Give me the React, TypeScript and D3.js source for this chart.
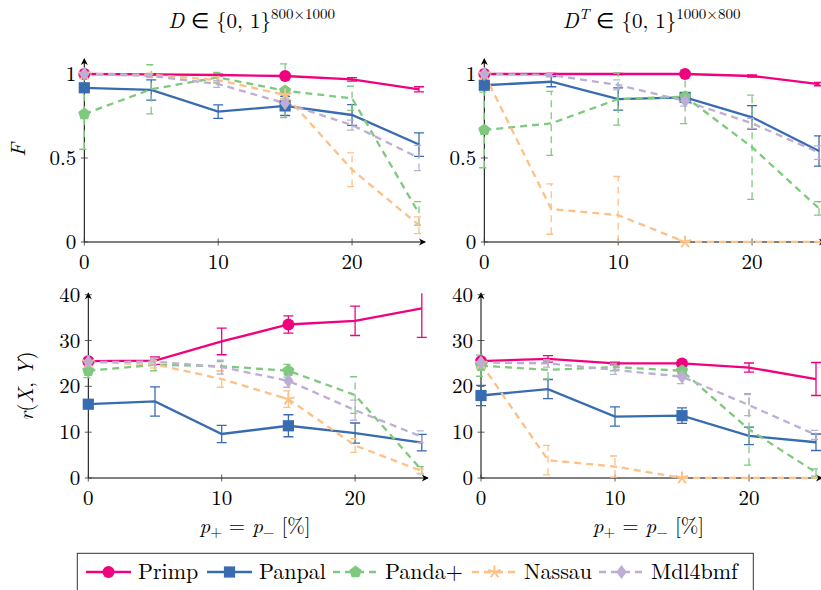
import * as d3 from 'd3'

const W = 821
const H = 590
const FONT = "'Latin Modern Roman', 'CMU Serif', 'Liberation Serif', serif"

// noise level p+ = p- in percent
const P_LEVELS = [0, 5, 10, 15, 20, 25]
const X_TICKS = [0, 10, 20]
const F_TICKS = [0, 0.5, 1]
const R_TICKS = [0, 10, 20, 30, 40]

const METHODS = ['Primp', 'Panpal', 'Panda+', 'Nassau', 'Mdl4bmf']
const COLORS = ['#f0027f', '#386cb0', '#7fc97f', '#fdc086', '#beaed4']
const DASHED = [false, false, true, true, true]
const MARKERS = ['circle', 'square', 'pentagon', 'star', 'diamond']

// F on D (800x1000), rows follow METHODS
const F_D_MEAN = [
  [1.0, 0.998, 0.994, 0.988, 0.968, 0.909],
  [0.918, 0.905, 0.776, 0.81, 0.756, 0.58],
  [0.762, 0.909, 0.98, 0.9, 0.855, 0.17],
  [1.0, 0.995, 0.964, 0.875, 0.43, 0.1],
  [1.0, 0.988, 0.94, 0.826, 0.696, 0.5],
]
const F_D_ERR = [
  [0.004, 0.004, 0.005, 0.008, 0.01, 0.015],
  [0.01, 0.06, 0.04, 0.057, 0.062, 0.07],
  [0.21, 0.146, 0.03, 0.16, 0.072, 0.07],
  [0.003, 0.01, 0.02, 0.02, 0.1, 0.05],
  [0.003, 0.01, 0.02, 0.02, 0.03, 0.075],
]

// F on D^T (1000x800)
const F_DT_MEAN = [
  [1.0, 1.0, 1.0, 1.0, 0.988, 0.94],
  [0.933, 0.954, 0.851, 0.861, 0.742, 0.542],
  [0.667, 0.706, 0.851, 0.865, 0.564, 0.2],
  [1.0, 0.196, 0.16, 0, 0, 0],
  [1.0, 0.994, 0.935, 0.839, 0.706, 0.532],
]
const F_DT_ERR = [
  [0.003, 0.003, 0.003, 0.004, 0.006, 0.01],
  [0.01, 0.03, 0.066, 0.02, 0.07, 0.09],
  [0.225, 0.19, 0.155, 0.16, 0.31, 0.04],
  [0.003, 0.15, 0.23, 0, 0, 0],
  [0.003, 0.01, 0.03, 0.03, 0.03, 0.04],
]

// r(X, Y) on D
const R_D_MEAN = [
  [25.5, 25.6, 29.8, 33.5, 34.3, 37.0],
  [16.1, 16.7, 9.6, 11.4, 9.8, 7.7],
  [23.4, 24.7, 24.4, 23.4, 18.1, 1.7],
  [25.3, 24.8, 21.6, 17.2, 7.1, 1.5],
  [25.3, 25.4, 24.2, 21.2, 14.8, 9.0],
]
const R_D_ERR = [
  [0.5, 0.8, 2.9, 1.9, 3.2, 6.3],
  [0.8, 3.2, 1.9, 2.4, 2.2, 1.8],
  [1.5, 1.3, 1.0, 1.4, 4.0, 0.8],
  [0.5, 0.8, 1.8, 1.8, 1.5, 0.5],
  [0.5, 0.8, 1.5, 1.4, 2.2, 1.3],
]

// r(X, Y) on D^T
const R_DT_MEAN = [
  [25.5, 26.0, 25.0, 25.0, 24.1, 21.6],
  [18.0, 19.4, 13.4, 13.6, 9.2, 7.8],
  [24.5, 23.6, 24.2, 23.4, 10.6, 1.2],
  [25.0, 3.9, 2.5, 0, 0, 0],
  [25.2, 25.0, 23.6, 22.1, 15.9, 9.4],
]
const R_DT_ERR = [
  [0.5, 0.7, 0.3, 0.4, 1.0, 3.6],
  [2.2, 2.1, 2.1, 1.7, 1.9, 1.8],
  [2.3, 2.0, 0.8, 1.0, 7.8, 0.8],
  [0.5, 3.2, 2.3, 0, 0, 0],
  [0.5, 0.8, 1.0, 1.5, 2.3, 1.0],
]

const PANELS = [
  { id: 'fd', mean: F_D_MEAN, err: F_D_ERR, ticks: F_TICKS, fmt: (v: number) => String(v),
    xRange: [84.3, 419], yRange: [242, 74], yDomain: [0, 1], yTop: 1.09, transposed: false, row: 0 },
  { id: 'fdt', mean: F_DT_MEAN, err: F_DT_ERR, ticks: F_TICKS, fmt: (v: number) => String(v),
    xRange: [484.3, 819], yRange: [242, 74], yDomain: [0, 1], yTop: 1.09, transposed: true, row: 0 },
  { id: 'rd', mean: R_D_MEAN, err: R_D_ERR, ticks: R_TICKS, fmt: (v: number) => String(v),
    xRange: [88.3, 421.8], yRange: [478, 294.7], yDomain: [0, 40], yTop: 40.3, transposed: false, row: 1 },
  { id: 'rdt', mean: R_DT_MEAN, err: R_DT_ERR, ticks: R_TICKS, fmt: (v: number) => String(v),
    xRange: [481, 816], yRange: [478, 294.7], yDomain: [0, 40], yTop: 40.3, transposed: true, row: 1 },
]

const LEGEND_X = [86, 207, 333, 472, 599]
const DASH = '7,5'

function Marker({ type, color, cx, cy }: { type: string; color: string; cx: number; cy: number }) {
  if (type === 'circle') return <circle cx={cx} cy={cy} r={6} fill={color} />
  if (type === 'square') return <rect x={cx - 5.6} y={cy - 5.6} width={11.2} height={11.2} fill={color} />
  if (type === 'diamond') {
    return <path d={`M${cx},${cy - 7}L${cx + 5.2},${cy}L${cx},${cy + 7}L${cx - 5.2},${cy}Z`} fill={color} />
  }
  if (type === 'pentagon') {
    const pts = d3.range(5).map(k => {
      const a = -Math.PI / 2 + (k * 2 * Math.PI) / 5
      return [cx + 6.4 * Math.cos(a), cy + 6.4 * Math.sin(a)]
    })
    return <path d={'M' + pts.map(p => p.join(',')).join('L') + 'Z'} fill={color} />
  }
  // five-spoke star
  const spokes = d3.range(5).map(k => {
    const a = -Math.PI / 2 + (k * 2 * Math.PI) / 5
    return `M${cx},${cy}L${cx + 6.5 * Math.cos(a)},${cy + 6.5 * Math.sin(a)}`
  })
  return <path d={spokes.join('')} stroke={color} strokeWidth={2} fill="none" />
}

function Panel({ cfg }: { cfg: typeof PANELS[number] }) {
  const x = d3.scaleLinear().domain([0, 25]).range(cfg.xRange)
  const y = d3.scaleLinear().domain(cfg.yDomain).range(cfg.yRange)
  const line = d3.line<number>().x((_, i) => x(P_LEVELS[i])).y(d => y(d))
  const x0 = x(0)
  const y0 = y(0)
  const xEnd = x(25.45)
  const yEnd = y(cfg.yTop)
  const clipId = `clip-${cfg.id}`

  return (
    <g>
      <defs>
        <clipPath id={clipId}>
          <rect x={x0 - 12} y={yEnd} width={xEnd - x0 + 24} height={y0 - yEnd + 1} />
        </clipPath>
      </defs>

      {/* axes */}
      <line x1={x0} x2={xEnd} y1={y0} y2={y0} stroke="#000" strokeWidth={1} />
      <path d={`M${xEnd + 1},${y0}L${xEnd - 6},${y0 - 3.5}L${xEnd - 4},${y0}L${xEnd - 6},${y0 + 3.5}Z`} fill="#000" />
      <line x1={x0} x2={x0} y1={y0} y2={yEnd} stroke="#000" strokeWidth={1} />
      <path d={`M${x0},${yEnd - 1}L${x0 - 3.5},${yEnd + 6}L${x0},${yEnd + 4}L${x0 + 3.5},${yEnd + 6}Z`} fill="#000" />

      {X_TICKS.map(t => (
        <g key={`xt-${t}`}>
          <line x1={x(t)} x2={x(t)} y1={y0 - 3.5} y2={y0 + 3.5} stroke="#333" strokeWidth={0.8} />
          <text x={x(t)} y={y0 + 27} textAnchor="middle" fontSize={21}>{t}</text>
        </g>
      ))}
      {cfg.ticks.map(t => (
        <g key={`yt-${t}`}>
          <line x1={x0 - 3.5} x2={x0 + 3.5} y1={y(t)} y2={y(t)} stroke="#333" strokeWidth={0.8} />
          <text x={x0 - 8} y={y(t)} dy="0.34em" textAnchor="end" fontSize={21}>{cfg.fmt(t)}</text>
        </g>
      ))}

      {/* series: lines and error bars */}
      <g clipPath={`url(#${clipId})`}>
        {METHODS.map((m, si) => {
          const mean = cfg.mean[si]
          const err = cfg.err[si]
          const color = COLORS[si]
          const dash = DASHED[si] ? DASH : undefined
          return (
            <g key={m}>
              {mean.map((v, i) => {
                const cx = x(P_LEVELS[i])
                const hi = y(v + err[i])
                const lo = y(v - err[i])
                return (
                  <path
                    key={i}
                    d={`M${cx},${lo}L${cx},${hi}M${cx - 5},${hi}L${cx + 5},${hi}M${cx - 5},${lo}L${cx + 5},${lo}`}
                    stroke={color}
                    strokeWidth={1.3}
                    strokeDasharray={dash}
                    fill="none"
                  />
                )
              })}
              <path d={line(mean) ?? ''} fill="none" stroke={color} strokeWidth={2.3} strokeDasharray={dash} />
            </g>
          )
        })}
      </g>

      {/* markers every third point */}
      {METHODS.map((m, si) => (
        <g key={`mk-${m}`}>
          {cfg.mean[si].map((v, i) =>
            i % 3 === 0 ? (
              <Marker key={i} type={MARKERS[si]} color={COLORS[si]} cx={x(P_LEVELS[i])} cy={y(v)} />
            ) : null
          )}
        </g>
      ))}

      {cfg.row === 0 ? (
        <text x={x(12.5)} y={28} textAnchor="middle" fontSize={21}>
          <tspan fontStyle="italic">D</tspan>
          {cfg.transposed ? (
            <>
              <tspan dy={-9} fontSize={15} fontStyle="italic">T</tspan>
              <tspan dy={9}> ∈ {'{'}0, 1{'}'}</tspan>
            </>
          ) : (
            <tspan> ∈ {'{'}0, 1{'}'}</tspan>
          )}
          <tspan dy={-9} fontSize={15}>{cfg.transposed ? '1000×800' : '800×1000'}</tspan>
        </text>
      ) : (
        <text x={x(12.5)} y={533} textAnchor="middle" fontSize={21}>
          <tspan fontStyle="italic">p</tspan>
          <tspan dy={4} fontSize={15}>+</tspan>
          <tspan dy={-4}> = </tspan>
          <tspan fontStyle="italic">p</tspan>
          <tspan dy={4} fontSize={15}>−</tspan>
          <tspan dy={-4}>  [%]</tspan>
        </text>
      )}
    </g>
  )
}

function Legend() {
  const cy = 572
  return (
    <g>
      <rect x={77.3} y={553.3} width={676} height={50} fill="#fff" stroke="#333" strokeWidth={1} />
      {METHODS.map((m, i) => {
        const lx = LEGEND_X[i]
        return (
          <g key={m}>
            <line x1={lx} x2={lx + 45} y1={cy} y2={cy} stroke={COLORS[i]} strokeWidth={2.3}
              strokeDasharray={DASHED[i] ? DASH : undefined} />
            <Marker type={MARKERS[i]} color={COLORS[i]} cx={lx + 22.5} cy={cy} />
            <text x={lx + 52} y={cy} dy="0.34em" fontSize={22}>{m}</text>
          </g>
        )
      })}
    </g>
  )
}

export default function App() {
  return (
    <svg width={W} height={H} style={{ position: 'absolute', left: 0, top: 0, background: '#fff' }}
      fontFamily={FONT} fill="#000">
      <rect width={W} height={H} fill="#fff" />
      {PANELS.map(p => <Panel key={p.id} cfg={p} />)}
      <text transform="translate(25,150) rotate(-90)" textAnchor="middle" fontSize={21} fontStyle="italic">F</text>
      <text transform="translate(33,386) rotate(-90)" textAnchor="middle" fontSize={21}>
        <tspan fontStyle="italic">r</tspan>(<tspan fontStyle="italic">X</tspan>, <tspan fontStyle="italic">Y</tspan>)
      </text>
      <Legend />
    </svg>
  )
}
